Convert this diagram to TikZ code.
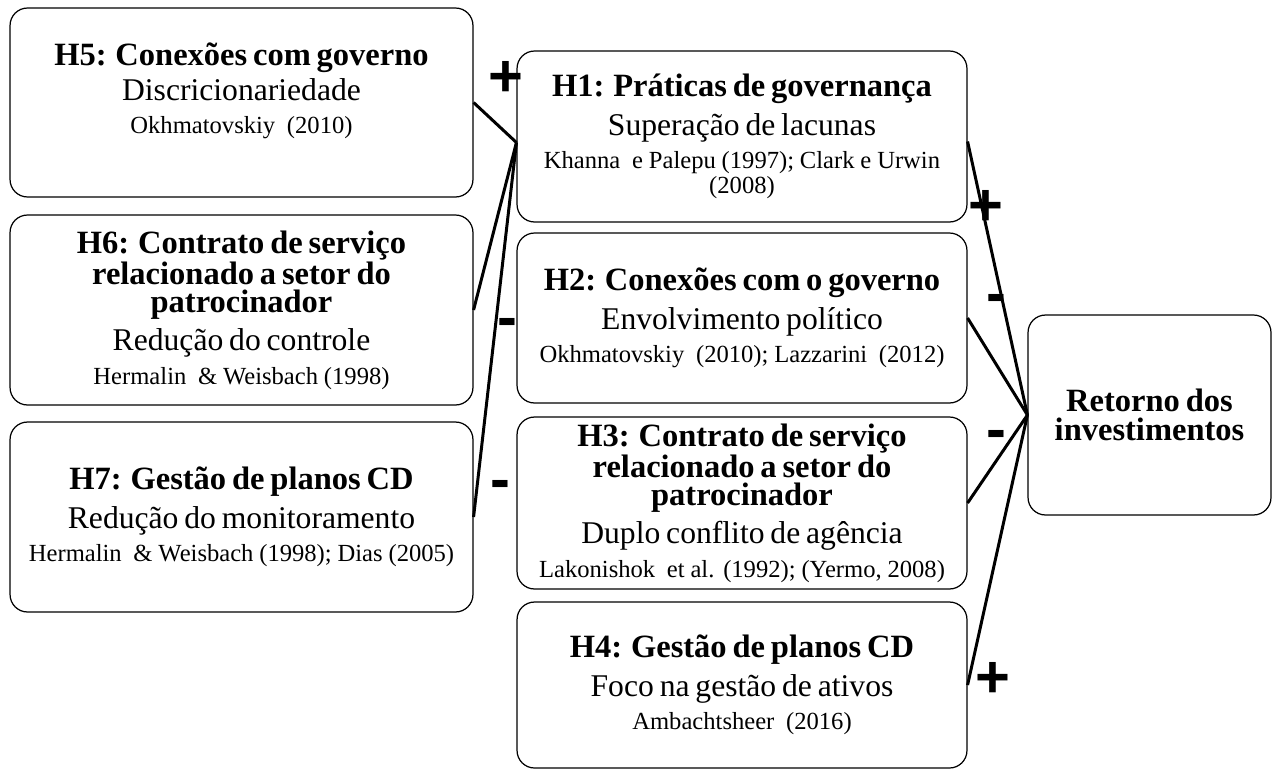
\documentclass[tikz,border=0pt]{standalone}
\usepackage{fontspec}
\setmainfont{Liberation Serif}
\newfontfamily\signfont{Liberation Sans}
\newcommand{\boxtitle}{\fontsize{18.5}{16}\selectfont\bfseries}
\newcommand{\boxsub}{\fontsize{18}{22}\selectfont\mdseries}
\newcommand{\boxcite}{\fontsize{14}{19}\selectfont\mdseries}
\tikzset{
 hyp/.style={draw, rounded corners=0.35cm, line width=0.7pt, align=center, inner sep=0pt},
 leftbox/.style={hyp, minimum width=9.26cm, text width=9cm},
 rightbox/.style={hyp, minimum width=9cm, text width=8.8cm},
 link/.style={line width=1.7pt},
 sign/.style={font=\signfont\bfseries\fontsize{34}{34}\selectfont, inner sep=0pt},
}
\begin{document}
\begin{tikzpicture}[x=0.02cm, y=-0.02cm]
        \useasboundingbox (0,0) rectangle (1273,771);
        \node[leftbox, minimum height=3.78cm] (h5) at (241.5,102.5) {{\boxtitle H5: Conexões com governo\par}\vspace{-2pt}{\boxsub Discricionariedade\par}{\boxcite Okhmatovskiy~~(2010)\par}\vspace{4.5pt}\mbox{}};
        \node[leftbox, minimum height=3.8cm] (h6) at (241.5,310) {{\boxtitle H6: Contrato de serviço\\relacionado a setor do\\patrocinador\par}{\boxsub Redução do controle\par}{\boxcite Hermalin~~\& Weisbach (1998)\par}};
        \node[leftbox, minimum height=3.8cm] (h7) at (241.5,517) {{\boxtitle H7: Gestão de planos CD\par}{\boxsub Redução do monitoramento\par}{\boxcite Hermalin~~\& Weisbach (1998); Dias (2005)\par}};
        \node[rightbox, minimum height=3.42cm] (h1) at (742,136.5) {{\boxtitle H1: Práticas de governança\par}{\boxsub Superação de lacunas\par}{\boxcite Khanna~~e Palepu (1997); Clark e Urwin\\[-5pt](2008)\par}};
        \node[rightbox, minimum height=3.4cm] (h2) at (742,318) {{\boxtitle H2: Conexões com o governo\par}{\boxsub Envolvimento político\par}{\boxcite Okhmatovskiy~~(2010); Lazzarini~~(2012)\par}};
        \node[rightbox, minimum height=3.44cm] (h3) at (742,503) {{\boxtitle H3: Contrato de serviço\\relacionado a setor do\\patrocinador\par}{\boxsub Duplo conflito de agência\par}{\boxcite Lakonishok~~et al. (1992); (Yermo, 2008)\par}};
        \node[rightbox, minimum height=3.32cm] (h4) at (742,685) {{\boxtitle H4: Gestão de planos CD\par}{\boxsub Foco na gestão de ativos\par}{\boxcite Ambachtsheer~~(2016)\par}};
        \node[hyp, minimum width=4.86cm, minimum height=4cm, text width=4.6cm] (ret) at (1149.5,415) {{\fontsize{18.5}{16.5}\selectfont\bfseries Retorno dos\\investimentos\par}};
        \coordinate (jl) at ([yshift=-0.12cm]h1.west);
        \coordinate (jr) at ([yshift=-0.1cm]h1.east);
        \draw[link] (h5.east) -- (jl);
        \draw[link] (h6.east) -- (jl);
        \draw[link] (h7.east) -- (jl);
        \draw[link] (jr) -- (ret.west);
        \draw[link] (h2.east) -- (ret.west);
        \draw[link] (h3.east) -- (ret.west);
        \draw[link] (h4.east) -- (ret.west);
        \node[sign] (s5) at (506,79) {+};
        \node[sign] (s6) at (507,328) {-};
        \node[sign] (s7) at (500,490) {-};
        \node[sign] (s1) at (986,208) {+};
        \node[sign] (s2) at (996,304) {-};
        \node[sign] (s3) at (996,440) {-};
        \node[sign] (s4) at (993,680) {+};
    \end{tikzpicture}
\end{document}
